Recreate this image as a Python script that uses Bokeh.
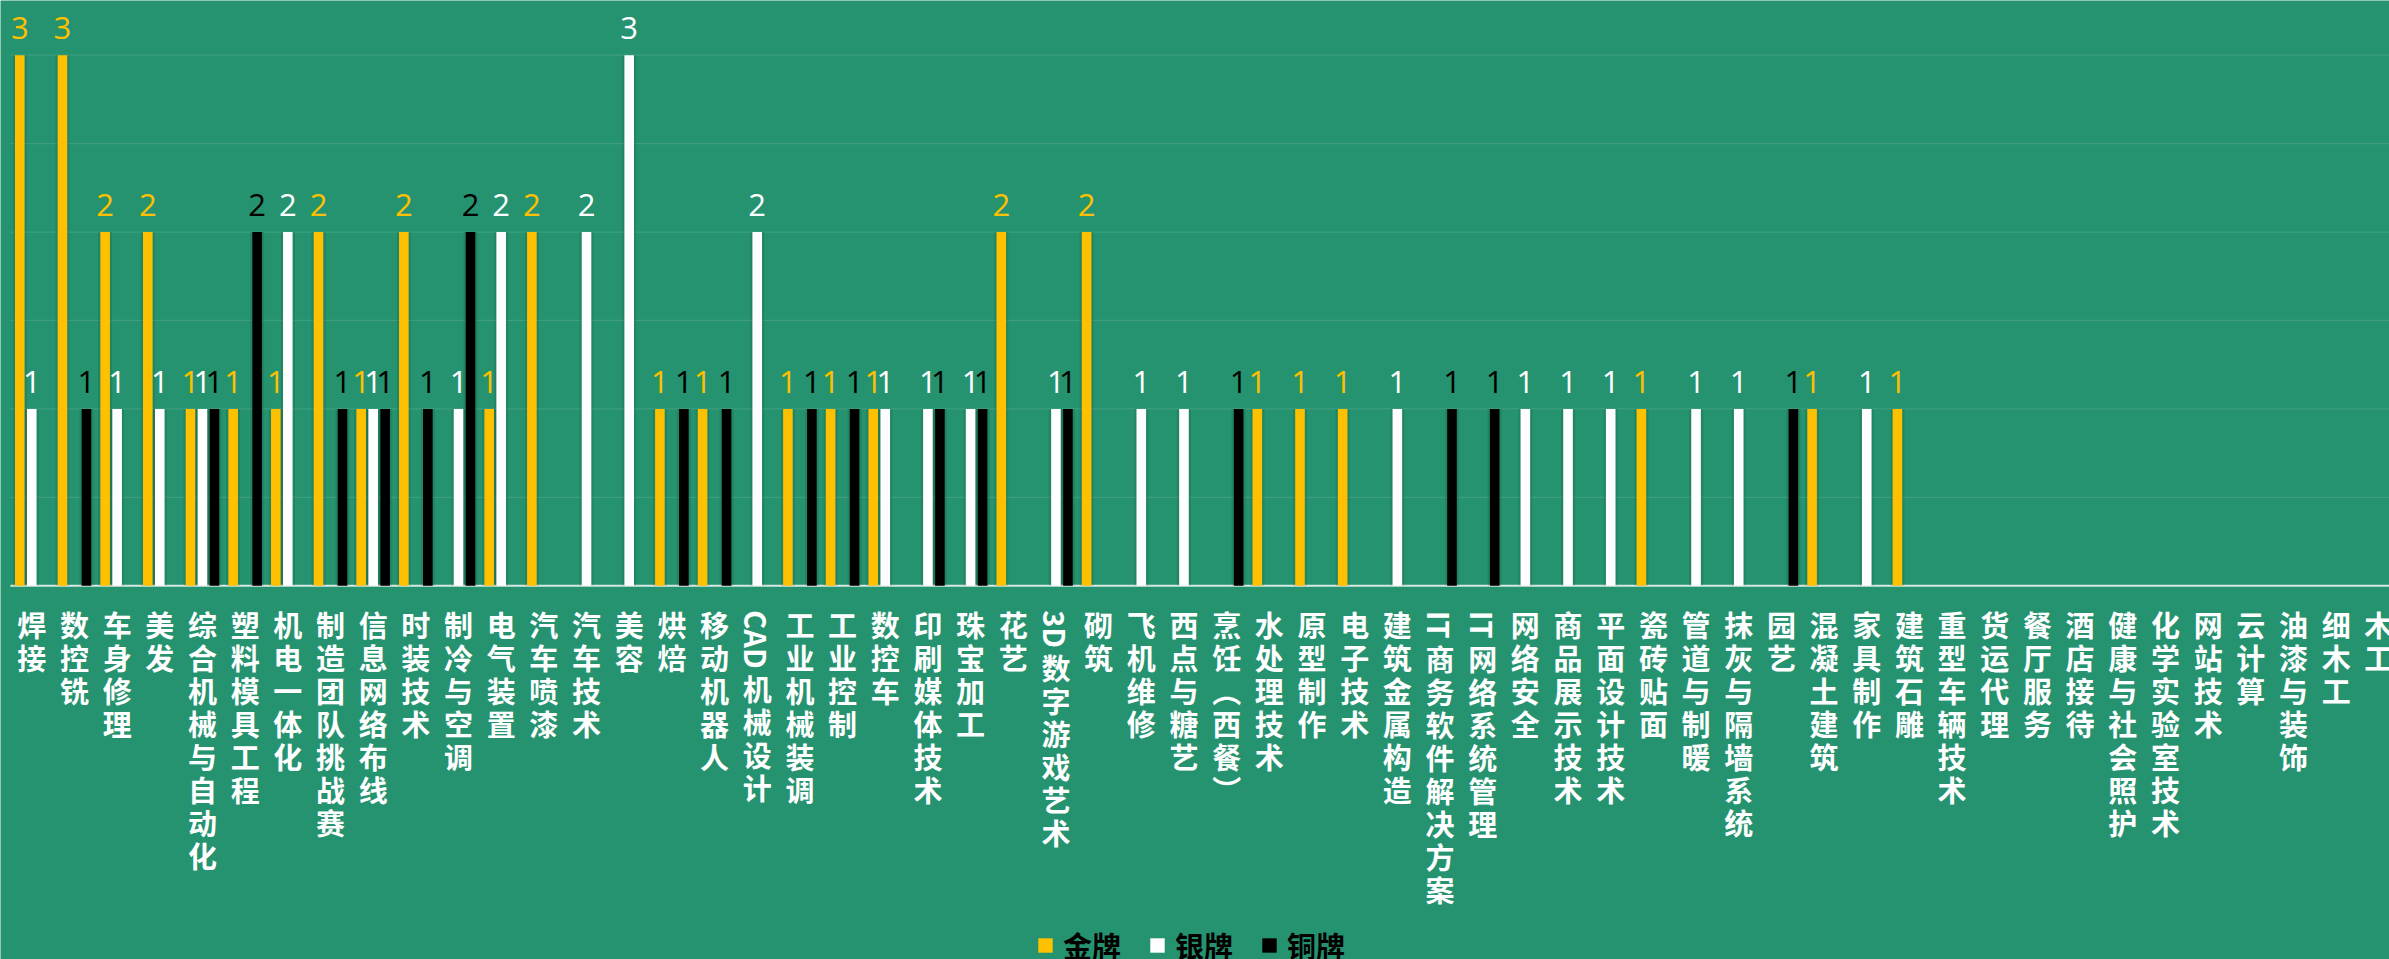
import math
from bokeh.plotting import figure
from bokeh.models import (ColumnDataSource, Range1d, Legend, LegendItem)
from bokeh.transform import dodge
from bokeh.core.properties import value
from bokeh.embed import file_html
from bokeh.resources import INLINE

categories = ["焊接", "数控铣", "车身修理", "美发", "综合机械与自动化", "塑料模具工程", "机电一体化",
              "制造团队挑战赛", "信息网络布线", "时装技术", "制冷与空调", "电气装置", "汽车喷漆", "汽车技术",
              "美容", "烘焙", "移动机器人", "CAD机械设计", "工业机械装调", "工业控制", "数控车",
              "印刷媒体技术", "珠宝加工", "花艺", "3D数字游戏艺术", "砌筑", "飞机维修", "西点与糖艺",
              "烹饪（西餐）", "水处理技术", "原型制作", "电子技术", "建筑金属构造", "IT商务软件解决方案",
              "IT网络系统管理", "网络安全", "商品展示技术", "平面设计技术", "瓷砖贴面", "管道与制暖",
              "抹灰与隔墙系统", "园艺", "混凝土建筑", "家具制作", "建筑石雕", "重型车辆技术", "货运代理",
              "餐厅服务", "酒店接待", "健康与社会照护", "化学实验室技术", "网站技术", "云计算", "油漆与装饰",
              "细木工", "木工"]

gold = [3, 3, 2, 2, 1, 1, 1, 2, 1, 2, 0, 1, 2, 0, 0, 1, 1, 0, 1, 1, 1, 0, 0, 2, 0, 2, 0, 0,
        0, 1, 1, 1, 0, 0, 0, 0, 0, 0, 1, 0, 0, 0, 1, 0, 1, 0, 0, 0, 0, 0, 0, 0, 0, 0, 0, 0]
silver = [1, 0, 1, 1, 1, 0, 2, 0, 1, 0, 1, 2, 0, 2, 3, 0, 0, 2, 0, 0, 1, 1, 1, 0, 1, 0, 1, 1,
          0, 0, 0, 0, 1, 0, 0, 1, 1, 1, 0, 1, 1, 0, 0, 1, 0, 0, 0, 0, 0, 0, 0, 0, 0, 0, 0, 0]
bronze = [0, 1, 0, 0, 1, 2, 0, 1, 1, 1, 2, 0, 0, 0, 0, 1, 1, 0, 1, 1, 0, 1, 1, 0, 1, 0, 0, 0,
          1, 0, 0, 0, 0, 1, 1, 0, 0, 0, 0, 0, 0, 1, 0, 0, 0, 0, 0, 0, 0, 0, 0, 0, 0, 0, 0, 0]
grid_values = [0.5, 1.0, 1.5, 2.0, 2.5, 3.0]

series_names = ["金牌", "银牌", "铜牌"]
series_colors = ["#FFC000", "#FFFFFF", "#000000"]

BG = "#25936F"
CJK = "Noto Sans CJK SC"
LABEL_PX = 29
PITCH = 33


def tokens(name):
    name = name.replace("（", "︵").replace("）", "︶")
    parts, buf = [], ""
    for ch in name:
        if ch.isascii():
            buf += ch
        else:
            if buf:
                parts.append(buf)
                buf = ""
            parts.append(ch)
    if buf:
        parts.append(buf)
    return parts


def latin_len(tok):
    w = 0.0
    for ch in tok:
        w += 0.3 if ch == "I" else (0.6 if ch.isdigit() else 0.66)
    return w * LABEL_PX


# table of stacked (vertical) category-label pieces
lx, lt, loff, lang = [], [], [], []
for i, name in enumerate(categories):
    cursor = 22.0
    for tok in tokens(name):
        if tok.isascii():
            L = latin_len(tok) + 6
            lx.append(i); lt.append(tok); loff.append(cursor + L / 2); lang.append(-math.pi / 2)
            cursor += L
        else:
            lx.append(i); lt.append(tok); loff.append(cursor + PITCH / 2); lang.append(0.0)
            cursor += PITCH

n = len(categories)
idx = list(range(n))

p = figure(width=2389, height=959, output_backend="svg", toolbar_location=None,
           x_range=Range1d(-0.733, 55.25), y_range=Range1d(-2.113, 3.309),
           x_axis_location=None, y_axis_location=None,
           min_border_left=0, min_border_right=0, min_border_top=0, min_border_bottom=0,
           background_fill_color=BG, border_fill_color=BG, outline_line_color=None)
p.xgrid.visible = False
p.ygrid.visible = False

# horizontal gridlines and the category axis line
p.segment(x0=-0.5, x1=n - 0.5, y0=grid_values, y1=grid_values,
          line_color="white", line_alpha=0.11, line_width=1.2)
p.segment(x0=[-0.5], x1=[n - 0.5], y0=[0], y1=[0], line_color="#D6E8E1", line_width=2)

offsets = [-0.281, 0.0, 0.281]
items = []
for name, color, vals, off in zip(series_names, series_colors, [gold, silver, bronze], offsets):
    src = ColumnDataSource(dict(x=idx, v=vals))
    # soft shadow
    p.vbar(x=dodge("x", off, range=p.x_range), top="v", width=0.33, source=src,
           fill_color="black", fill_alpha=0.10, line_color=None)
    r = p.vbar(x=dodge("x", off, range=p.x_range), top="v", width=0.225, source=src,
               fill_color=color, line_color=None)
    items.append(LegendItem(label=name, renderers=[r]))
    nz = [(i, v) for i, v in zip(idx, vals) if v > 0]
    lsrc = ColumnDataSource(dict(x=[a for a, _ in nz], v=[b for _, b in nz],
                                 t=[str(b) for _, b in nz]))
    p.text(x=dodge("x", off, range=p.x_range), y="v", text="t", source=lsrc,
           text_color=color, text_align="center", text_baseline="alphabetic",
           y_offset=-27, text_font=value("Open Sans"), text_font_size="31px")

# vertical category labels
csrc = ColumnDataSource(dict(x=lx, y=[0] * len(lx), t=lt, off=loff, ang=lang))
p.text(x="x", y="y", text="t", y_offset="off", angle="ang", source=csrc,
       text_color="white", text_align="center", text_baseline="middle",
       text_font=value(CJK), text_font_size=f"{LABEL_PX}px", text_font_style="bold")

legend = Legend(items=items, orientation="horizontal", location=(1036, -7),
                glyph_width=18, glyph_height=18, label_standoff=9, spacing=27,
                label_text_font=CJK, label_text_font_size="29px", label_text_color="black",
                label_text_font_style="bold",
                background_fill_alpha=0, border_line_alpha=0, padding=0, margin=0)
p.add_layout(legend, "center")

open("out.html", "w").write(file_html(p, INLINE))
